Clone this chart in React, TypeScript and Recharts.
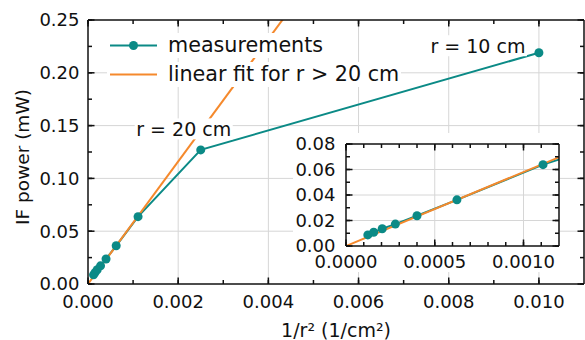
import React from "react";
import { LineChart, Line, XAxis, YAxis, CartesianGrid } from "recharts";

// 配色は元図から読み取り
const TEAL = "#0b8a86";
const ORANGE = "#f5892c";
const GRID = "#d6d6d6";
const INK = "#111";
const FONT = "'DejaVu Sans', Verdana, sans-serif";

// measurements, r = 90 ... 10 cm
const invR2 = [0.000123, 0.000156, 0.000204, 0.000278, 0.0004, 0.000625, 0.00111, 0.0025, 0.01];
const power = [0.0087, 0.0108, 0.0135, 0.0172, 0.0237, 0.0362, 0.0638, 0.127, 0.219];
const pointNotes = ["", "", "", "", "", "", "", "r = 20 cm", "r = 10 cm"];

// linear fit for r > 20 cm (through the origin)
const fitX = [0, 0.0044];
const fitY = [0, 0.2552];

// main axes
const mainXTicks = [0, 0.001, 0.002, 0.003, 0.004, 0.005, 0.006, 0.007, 0.008, 0.009, 0.01];
const mainXMajor = [0, 0.002, 0.004, 0.006, 0.008, 0.01];
const mainYTicks = [0, 0.025, 0.05, 0.075, 0.1, 0.125, 0.15, 0.175, 0.2, 0.225, 0.25];
const mainYMajor = [0, 0.05, 0.1, 0.15, 0.2, 0.25];
const mainGridX = [0.002, 0.004, 0.006, 0.008, 0.01];
const mainGridY = [0.05, 0.1, 0.15, 0.2];

// inset axes
const insetXTicks = [0, 0.0001, 0.0002, 0.0003, 0.0004, 0.0005, 0.0006, 0.0007, 0.0008, 0.0009, 0.001, 0.0011];
const insetXMajor = [0, 0.0005, 0.001];
const insetYTicks = [0, 0.01, 0.02, 0.03, 0.04, 0.05, 0.06, 0.07, 0.08];
const insetYMajor = [0, 0.02, 0.04, 0.06, 0.08];
const insetGridX = [0.0005, 0.001];
const insetGridY = [0.02, 0.04, 0.06];

const measRows = invR2.map((x, i) => ({ x, y: power[i], note: pointNotes[i] }));
const fitRows = fitX.map((x, i) => ({ x, y: fitY[i] }));

// 注記テキストの位置(点からのずれ)
const NOTE_OFFSET: Record<string, [number, number]> = {
  "r = 20 cm": [-17, -21],
  "r = 10 cm": [-61, -7],
};

type Side = "bottom" | "top" | "left" | "right";

// 目盛り線は負のtickSizeで内向きに描く。主目盛りだけ少し長く足し、ラベルもここで描く。
const TICK = -4;
function makeTick(side: Side, major: number[], fmt?: (v: number) => string, gap = 0) {
  return (props: any) => {
    const x = Number(props.x);
    const y = Number(props.y);
    const v = Number(props.payload.value);
    const isMajor = major.some((m) => Math.abs(m - v) < 1e-9);
    const len = 6.5;
    const d =
      side === "bottom" ? [0, -len] : side === "top" ? [0, len] : side === "left" ? [len, 0] : [-len, 0];
    return (
      <g>
        {isMajor && <path d={`M${x},${y}L${x + d[0]},${y + d[1]}`} stroke={INK} strokeWidth={1.5} fill="none" />}
        {isMajor && fmt && side === "bottom" && (
          <text x={x} y={y + gap} textAnchor="middle" fontSize={18} fill={INK} fontFamily={FONT}>
            {fmt(v)}
          </text>
        )}
        {isMajor && fmt && side === "left" && (
          <text x={x - gap} y={y} dy="0.36em" textAnchor="end" fontSize={18} fill={INK} fontFamily={FONT}>
            {fmt(v)}
          </text>
        )}
      </g>
    );
  };
}

function renderNote(props: any) {
  const { x, y, index } = props;
  const note = pointNotes[index];
  if (!note) return null;
  const [dx, dy] = NOTE_OFFSET[note] || [0, -15];
  const cx = x + dx;
  const cy = y + dy;
  return (
    <g>
      <rect x={cx - 49} y={cy - 10.5} width={98} height={21} fill="#fff" />
      <text x={cx} y={cy} dy="0.36em" textAnchor="middle" fontSize={19} fill={INK} fontFamily={FONT}>
        {note}
      </text>
    </g>
  );
}

const axisLine = { stroke: INK, strokeWidth: 1.5 };
const tickLine = { stroke: INK, strokeWidth: 1.5 };

// 共通の軸設定(内向き目盛り)
const tickBase = { tickSize: TICK, tickMargin: -TICK, interval: 0 as const, tickLine, axisLine, allowDataOverflow: true };

function LegendRow({ top, kind, text }: { top: number; kind: "meas" | "fit"; text: string }) {
  const color = kind === "meas" ? TEAL : ORANGE;
  return (
    <div
      style={{
        position: "absolute",
        left: 107,
        top,
        height: 25,
        display: "flex",
        alignItems: "center",
        background: "#fff",
        paddingRight: 2,
      }}
    >
      <svg width={54} height={25} style={{ display: "block" }}>
        <line x1={3} y1={12.5} x2={50} y2={12.5} stroke={color} strokeWidth={2} />
        {kind === "meas" && <circle cx={26.5} cy={12.5} r={4.5} fill={TEAL} />}
      </svg>
      <span style={{ fontFamily: FONT, fontSize: 20.7, lineHeight: "25px", color: INK, marginLeft: 7, whiteSpace: "nowrap" }}>
        {text}
      </span>
    </div>
  );
}

function MainChart() {
  return (
    <LineChart width={585} height={340} margin={{ top: 19, right: 0, bottom: 0, left: 0 }} style={{ fontFamily: FONT }}>
      <CartesianGrid
        xAxisId="b"
        yAxisId="l"
        stroke={GRID}
        verticalValues={mainGridX}
        horizontalValues={mainGridY}
      />
      <XAxis
        {...tickBase}
        xAxisId="b"
        type="number"
        dataKey="x"
        domain={[0, 0.011]}
        ticks={mainXTicks}
        height={56}
        tick={makeTick("bottom", mainXMajor, (v) => v.toFixed(3), 24)}
        label={(p: any) => {
          const vb = p.viewBox;
          return (
            <text x={vb.x + vb.width / 2} y={vb.y + 53} textAnchor="middle" fontSize={19} fill={INK} fontFamily={FONT}>
              1/r² (1/cm²)
            </text>
          );
        }}
      />
      <XAxis
        {...tickBase}
        xAxisId="t"
        orientation="top"
        type="number"
        dataKey="x"
        domain={[0, 0.011]}
        ticks={mainXTicks}
        height={1}
        tick={makeTick("top", mainXMajor)}
      />
      <YAxis
        {...tickBase}
        yAxisId="l"
        type="number"
        domain={[0, 0.25]}
        ticks={mainYTicks}
        width={88}
        tick={makeTick("left", mainYMajor, (v) => v.toFixed(2), 8.5)}
        label={(p: any) => {
          const vb = p.viewBox;
          const cx = vb.x + 28.5;
          const cy = vb.y + vb.height / 2 + 5;
          return (
            <text
              x={cx}
              y={cy}
              transform={`rotate(-90 ${cx} ${cy})`}
              textAnchor="middle"
              fontSize={18.5}
              fill={INK}
              fontFamily={FONT}
            >
              IF power (mW)
            </text>
          );
        }}
      />
      <YAxis
        {...tickBase}
        yAxisId="r"
        orientation="right"
        type="number"
        domain={[0, 0.25]}
        ticks={mainYTicks}
        width={1}
        tick={makeTick("right", mainYMajor)}
      />
      <Line
        data={measRows}
        dataKey="y"
        xAxisId="b"
        yAxisId="l"
        type="linear"
        stroke={TEAL}
        strokeWidth={2}
        dot={{ r: 4.5, fill: TEAL, stroke: "none" }}
        activeDot={false}
        isAnimationActive={false}
      />
      <Line
        data={fitRows}
        dataKey="y"
        xAxisId="b"
        yAxisId="l"
        type="linear"
        stroke={ORANGE}
        strokeWidth={2}
        dot={false}
        activeDot={false}
        isAnimationActive={false}
      />
      <Line
        data={measRows}
        dataKey="y"
        xAxisId="b"
        yAxisId="l"
        stroke="none"
        dot={false}
        activeDot={false}
        isAnimationActive={false}
        label={renderNote}
      />
    </LineChart>
  );
}

function InsetChart() {
  return (
    <LineChart width={267} height={139} margin={{ top: 10, right: 0, bottom: 2, left: 0 }} style={{ fontFamily: FONT }}>
      <CartesianGrid
        xAxisId="b"
        yAxisId="l"
        stroke={GRID}
        verticalValues={insetGridX}
        horizontalValues={insetGridY}
      />
      <XAxis
        {...tickBase}
        xAxisId="b"
        type="number"
        dataKey="x"
        domain={[0, 0.0012]}
        ticks={insetXTicks}
        height={24}
        tick={makeTick("bottom", insetXMajor, (v) => v.toFixed(4), 22)}
      />
      <XAxis
        {...tickBase}
        xAxisId="t"
        orientation="top"
        type="number"
        dataKey="x"
        domain={[0, 0.0012]}
        ticks={insetXTicks}
        height={1}
        tick={makeTick("top", insetXMajor)}
      />
      <YAxis
        {...tickBase}
        yAxisId="l"
        type="number"
        domain={[0, 0.08]}
        ticks={insetYTicks}
        width={53}
        tick={makeTick("left", insetYMajor, (v) => v.toFixed(2), 10.5)}
      />
      <YAxis
        {...tickBase}
        yAxisId="r"
        orientation="right"
        type="number"
        domain={[0, 0.08]}
        ticks={insetYTicks}
        width={1}
        tick={makeTick("right", insetYMajor)}
      />
      <Line
        data={measRows}
        dataKey="y"
        xAxisId="b"
        yAxisId="l"
        type="linear"
        stroke={TEAL}
        strokeWidth={2}
        dot={{ r: 4.5, fill: TEAL, stroke: "none" }}
        activeDot={false}
        isAnimationActive={false}
      />
      <Line
        data={fitRows}
        dataKey="y"
        xAxisId="b"
        yAxisId="l"
        type="linear"
        stroke={ORANGE}
        strokeWidth={2}
        dot={false}
        activeDot={false}
        isAnimationActive={false}
      />
    </LineChart>
  );
}

export default function App() {
  return (
    <div style={{ position: "absolute", left: 0, top: 0, width: 585, height: 340, background: "#fff" }}>
      <MainChart />
      <LegendRow top={33} kind="meas" text="measurements" />
      <LegendRow top={62} kind="fit" text="linear fit for r > 20 cm" />
      <div style={{ position: "absolute", left: 293, top: 133, width: 267, height: 139, background: "#fff" }}>
        <InsetChart />
      </div>
    </div>
  );
}
